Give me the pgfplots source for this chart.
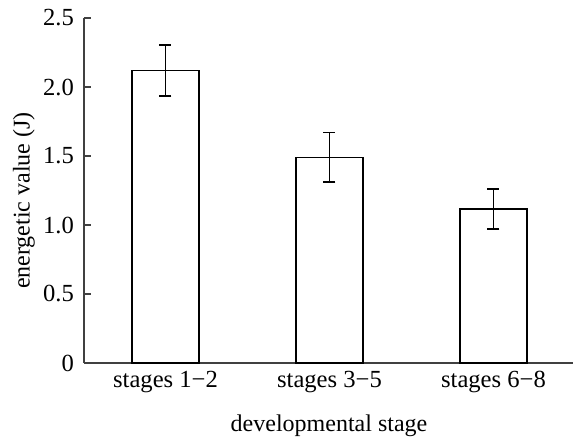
\documentclass[border=0pt]{standalone}
\usepackage{fontspec}
\setmainfont{Liberation Serif}
\usepackage{pgfplots}
\pgfplotsset{compat=1.18}
\begin{document}
\begin{tikzpicture}
\begin{axis}[
  name=ax,
  scale only axis,
  width=244.5pt, height=172.5pt,
  xmin=-0.497, xmax=2.485,
  ymin=0, ymax=2.5,
  axis x line=bottom, axis y line=left,
  axis line style={-, line width=0.75pt, draw=black!75},
  xtick={0,1,2},
  xticklabels={stages 1−2, stages 3−5, stages 6−8},
  xtick style={draw=none},
  ytick={0,0.5,1,1.5,2,2.5},
  yticklabels={0,0.5,1.0,1.5,2.0,2.5},
  tick align=inside,
  ytick style={line width=0.75pt, draw=black!75},
  major tick length=3.5pt,
  tick label style={font=\fontsize{12.3}{14}\selectfont},
  yticklabel style={xshift=-1.5pt},
  xticklabel style={yshift=-0.5pt},
  xlabel={developmental stage},
  ylabel={energetic value (J)},
  every axis x label/.style={at={(axis description cs:0.501,-0.1826)}, anchor=center, font=\fontsize{12}{14}\selectfont},
  every axis y label/.style={at={(axis description cs:-0.1227,0.471)}, anchor=center, rotate=90, font=\fontsize{12}{14}\selectfont},
  clip=false,
]
\addplot[ybar, bar width=33.5pt, draw=black, fill=white, line width=0.75pt,
  error bars/.cd, y dir=both, y explicit,
  error bar style={line width=0.8pt, black},
  error mark options={rotate=90, mark size=3pt, line width=0.8pt, black}]
  coordinates {
  (0,2.12) +- (0,0.185)
  (1,1.49) +- (0,0.18)
  (2,1.116) +- (0,0.145)
  };
\end{axis}
\pgfresetboundingbox
\path[use as bounding box] ([xshift=-42pt,yshift=-37pt]ax.south west) rectangle ([yshift=9pt]ax.north east);
\end{tikzpicture}
\end{document}
